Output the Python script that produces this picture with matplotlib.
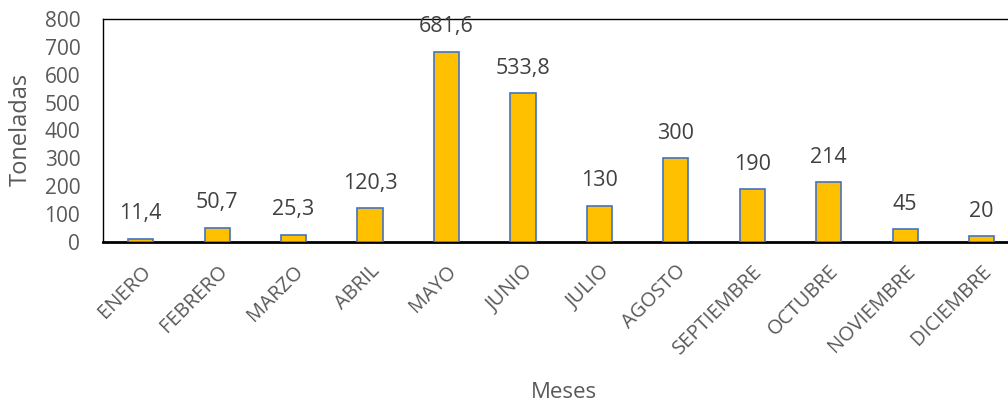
import matplotlib
matplotlib.use("Agg")
import matplotlib.pyplot as plt
import numpy as np

# Toneladas por mes
meses = ["ENERO", "FEBRERO", "MARZO", "ABRIL", "MAYO", "JUNIO", "JULIO",
         "AGOSTO", "SEPTIEMBRE", "OCTUBRE", "NOVIEMBRE", "DICIEMBRE"]
toneladas = [11.4, 50.7, 25.3, 120.3, 681.6, 533.8, 130, 300, 190, 214, 45, 20]
y_ticks = [0, 100, 200, 300, 400, 500, 600, 700, 800]

gris = "#595959"
plt.rcParams["font.family"] = ["Open Sans", "DejaVu Sans"]

fig = plt.figure(figsize=(10.08, 4.05), dpi=100, facecolor="white")
ax = fig.add_axes([0.1017, 0.4025, 0.910, 0.5506])

x = np.arange(len(meses))
bars = ax.bar(x, toneladas, width=0.33, color="#FFC000",
              edgecolor="#4472C4", linewidth=1.2, zorder=3)

# etiquetas de valor con coma decimal
for b, v in zip(bars, toneladas):
    txt = f"{v:g}".replace(".", ",")
    ax.annotate(txt, (b.get_x() + b.get_width() / 2, v),
                xytext=(0, 18), textcoords="offset points",
                ha="center", va="center", fontsize=15.5, color="#404040")

ax.set_xlim(-0.5, len(meses) - 0.5)
ax.set_ylim(0, 800)
ax.set_yticks(y_ticks)
ax.set_xticks(x)
ax.set_xticklabels(meses, rotation=45, ha="right", rotation_mode="anchor")
ax.tick_params(axis="both", length=0, labelsize=15, colors=gris)
ax.tick_params(axis="x", labelsize=14.5, pad=14)
ax.tick_params(axis="y", pad=16)

for side in ["left", "top"]:
    ax.spines[side].set_linewidth(1.0)
    ax.spines[side].set_color("black")
ax.spines["bottom"].set_linewidth(2.0)
ax.spines["bottom"].set_color("black")
ax.spines["right"].set_visible(False)

fig.text(0.021, 0.68, "Toneladas", rotation=90, ha="center", va="center",
         fontsize=17, color=gris)
fig.text(0.559, 0.03, "Meses", ha="center", va="center",
         fontsize=16, color=gris)

fig.savefig("out.png", dpi=100, facecolor="white")
